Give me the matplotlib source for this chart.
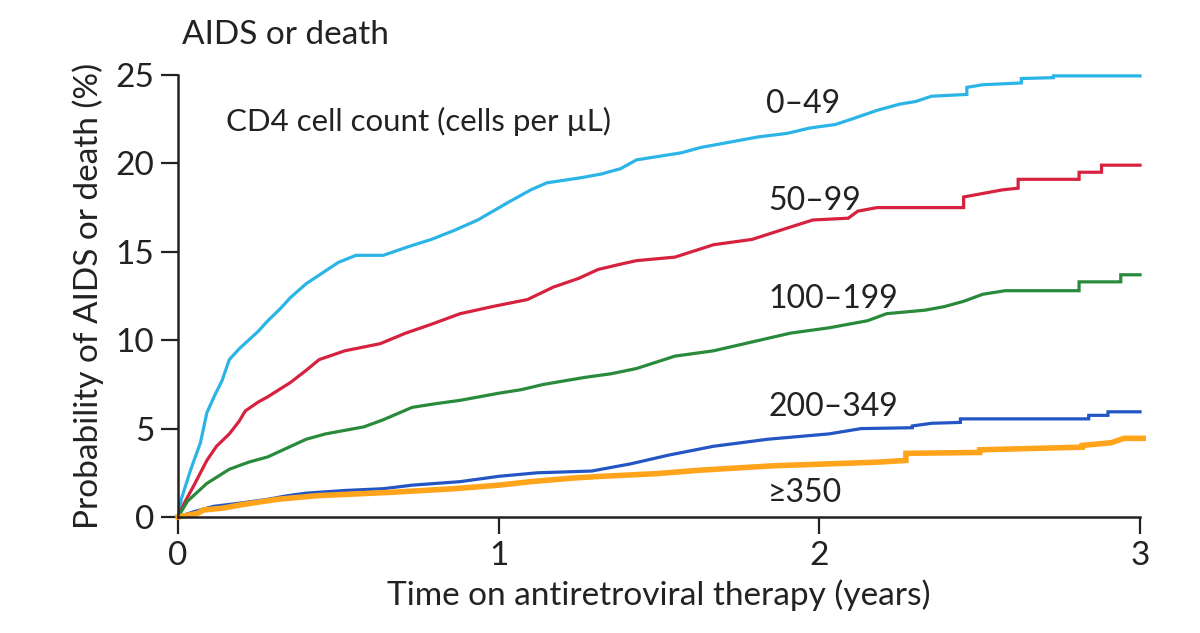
import matplotlib
matplotlib.use("Agg")
import matplotlib.pyplot as plt

plt.rcParams['font.family'] = ['Lato', 'DejaVu Sans']

# ---- data (vertices of each curve) ----
t_049 = [0, 0.01, 0.04, 0.07, 0.09, 0.115, 0.137, 0.16, 0.19, 0.22, 0.25, 0.28, 0.32, 0.35,
         0.40, 0.45, 0.50, 0.555, 0.64, 0.72, 0.79, 0.86, 0.935, 1.03, 1.1, 1.15, 1.26, 1.32,
         1.38, 1.43, 1.5, 1.57, 1.63, 1.72, 1.81, 1.9, 1.97, 2.05, 2.1, 2.18, 2.25, 2.30, 2.35,
         2.46, 2.46, 2.51, 2.63, 2.63, 2.73, 2.73, 3.0]
y_049 = [0, 1.0, 2.7, 4.2, 5.9, 6.9, 7.7, 8.9, 9.5, 10.0, 10.5, 11.1, 11.8, 12.4,
         13.2, 13.8, 14.4, 14.8, 14.8, 15.3, 15.7, 16.2, 16.8, 17.8, 18.5, 18.9, 19.2, 19.4,
         19.7, 20.2, 20.4, 20.6, 20.9, 21.2, 21.5, 21.7, 22.0, 22.2, 22.5, 23.0, 23.35, 23.5, 23.8,
         23.9, 24.3, 24.45, 24.55, 24.8, 24.85, 24.95, 24.95]

t_5099 = [0, 0.02, 0.05, 0.09, 0.12, 0.16, 0.19, 0.21, 0.25, 0.28, 0.35, 0.40, 0.44, 0.52,
          0.63, 0.71, 0.79, 0.88, 0.98, 1.09, 1.17, 1.25, 1.31, 1.38, 1.43, 1.55, 1.67,
          1.79, 1.91, 1.98, 2.09, 2.12, 2.18, 2.45, 2.45, 2.57, 2.62, 2.62, 2.81, 2.81,
          2.88, 2.88, 3.0]
y_5099 = [0, 0.8, 1.8, 3.2, 4.0, 4.7, 5.4, 6.0, 6.5, 6.8, 7.6, 8.3, 8.9, 9.4,
          9.8, 10.4, 10.9, 11.5, 11.9, 12.3, 13.0, 13.5, 14.0, 14.3, 14.5, 14.7, 15.4,
          15.7, 16.4, 16.8, 16.9, 17.3, 17.5, 17.5, 18.1, 18.5, 18.6, 19.1, 19.1, 19.5,
          19.5, 19.9, 19.9]

t_100199 = [0, 0.03, 0.09, 0.16, 0.22, 0.28, 0.34, 0.4, 0.46, 0.52, 0.58, 0.64, 0.73, 0.8,
            0.88, 1.0, 1.07, 1.14, 1.27, 1.35, 1.43, 1.55, 1.67, 1.79, 1.91, 2.03, 2.15, 2.21,
            2.33, 2.39, 2.45, 2.51, 2.58, 2.81, 2.81, 2.94, 2.94, 3.0]
y_100199 = [0, 0.9, 1.9, 2.7, 3.1, 3.4, 3.9, 4.4, 4.7, 4.9, 5.1, 5.5, 6.2, 6.4,
            6.6, 7.0, 7.2, 7.5, 7.9, 8.1, 8.4, 9.1, 9.4, 9.9, 10.4, 10.7, 11.1, 11.5,
            11.7, 11.9, 12.2, 12.6, 12.8, 12.8, 13.3, 13.3, 13.7, 13.7]

t_200349 = [0, 0.05, 0.11, 0.2, 0.28, 0.34, 0.4, 0.52, 0.64, 0.73, 0.88, 1.0, 1.12, 1.29,
            1.41, 1.53, 1.67, 1.84, 2.03, 2.13, 2.29, 2.29, 2.35, 2.44, 2.44, 2.84, 2.84,
            2.9, 2.9, 3.0]
y_200349 = [0, 0.3, 0.6, 0.8, 1.0, 1.2, 1.35, 1.5, 1.6, 1.8, 2.0, 2.3, 2.5, 2.6,
            3.0, 3.5, 4.0, 4.4, 4.7, 5.0, 5.05, 5.15, 5.3, 5.35, 5.55, 5.55, 5.75,
            5.75, 5.95, 5.95]

t_350 = [0, 0.06, 0.08, 0.14, 0.2, 0.31, 0.43, 0.67, 0.86, 1.0, 1.1, 1.23, 1.32, 1.49,
         1.63, 1.86, 2.18, 2.27, 2.27, 2.5, 2.5, 2.82, 2.82, 2.91, 2.95, 3.01]
y_350 = [0, 0.2, 0.4, 0.5, 0.7, 1.0, 1.2, 1.4, 1.6, 1.8, 2.0, 2.2, 2.3, 2.45,
         2.65, 2.9, 3.1, 3.2, 3.6, 3.65, 3.8, 3.95, 4.05, 4.2, 4.45, 4.45]

series_labels = ["0–49", "50–99", "100–199", "200–349", "≥350"]
x_ticks = [0, 1, 2, 3]
y_ticks = [0, 5, 10, 15, 20, 25]

# ---- figure ----
fig = plt.figure(figsize=(12, 6.33), dpi=100)
ax = fig.add_axes([178/1200, 1 - 517/633, (1140-178)/1200, (517-75)/633])

txt = '#222222'
series = [
    (t_049, y_049, '#2bb4e6', 2.3),
    (t_5099, y_5099, '#d6223f', 2.3),
    (t_100199, y_100199, '#2a8a3b', 2.3),
    (t_200349, y_200349, '#2356c4', 2.3),
    (t_350, y_350, '#ffa41b', 4.0),
]
for t, y, c, lw in series:
    ax.plot(t, y, color=c, lw=lw, clip_on=False, solid_joinstyle='miter')

ax.set_xlim(0, 3)
ax.set_ylim(0, 25)
ax.set_xticks(x_ticks)
ax.set_yticks(y_ticks)
ax.set_xticklabels([str(v) for v in x_ticks])
ax.set_yticklabels([str(v) for v in y_ticks])
for s in ['top', 'right']:
    ax.spines[s].set_visible(False)
for s in ['left', 'bottom']:
    ax.spines[s].set_linewidth(1.8)
    ax.spines[s].set_color('#222222')
ax.tick_params(axis='both', direction='out', length=12, width=1.6, colors='#222222',
               labelsize=24, labelcolor=txt, pad=5)

ax.set_xlabel("Time on antiretroviral therapy (years)", fontsize=24, color=txt, labelpad=6)
ax.set_ylabel("Probability of AIDS or death (%)", fontsize=24, color=txt, labelpad=8)

fig.text(182/1200, 1 - 44/633, "AIDS or death", fontsize=24, color=txt, va='baseline', ha='left')
fig.text(226/1200, 1 - 131/633, "CD4 cell count (cells per µL)", fontsize=22.5, color=txt,
         va='baseline', ha='left')

label_pos = [(766, 113), (768, 210), (768, 308), (768, 416), (768, 502)]
for lab, (px, py) in zip(series_labels, label_pos):
    fig.text(px/1200, 1 - py/633, lab, fontsize=23, color=txt, va='baseline', ha='left')

fig.savefig("out.png", dpi=100)
